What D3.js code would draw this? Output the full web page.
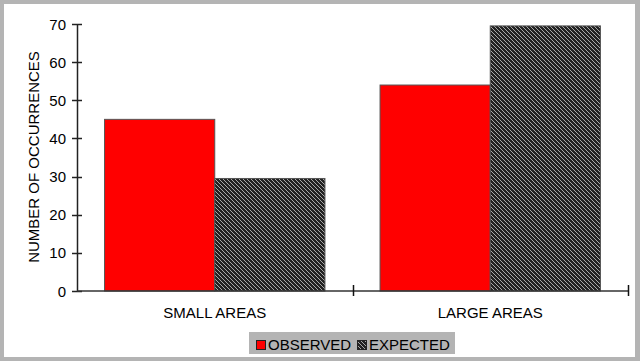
<!DOCTYPE html>
<html>
<head>
<meta charset="utf-8">
<script src="https://cdn.jsdelivr.net/npm/d3@7"></script>
<style>
  body { margin: 0; background: #fff; }
  svg { display: block; font-family: "Liberation Sans", Arial, sans-serif; }
</style>
</head>
<body>
<svg></svg>
<script>
// data
const categories = ["SMALL AREAS", "LARGE AREAS"];
const seriesNames = ["OBSERVED", "EXPECTED"];
const observed = [45, 54];
const expected = [29.5, 69.5];
const yTicks = [0, 10, 20, 30, 40, 50, 60, 70];

let width = 640;
let height = 361;
const svg = d3.select("svg").attr("width", width).attr("height", height);

// hatch pattern for the expected bars
let defs = svg.append("defs");
let pat = defs.append("pattern")
    .attr("id", "hatch")
    .attr("patternUnits", "userSpaceOnUse")
    .attr("width", 4).attr("height", 4);
pat.append("rect").attr("width", 4).attr("height", 4).attr("fill", "#222");
for (let i = 0; i < 4; i++) {
    pat.append("rect").attr("x", i).attr("y", i).attr("width", 1).attr("height", 1).attr("fill", "#a8a8a8");
}

// gray frame
svg.append("rect").attr("width", width).attr("height", height).attr("fill", "#b4b4b4");
svg.append("rect").attr("x", 4).attr("y", 4).attr("width", 631).attr("height", 353).attr("fill", "#fff");

let x0 = 77, x1 = 628, yBottom = 291, yTop = 24;

let x = d3.scaleBand().domain(categories).range([x0, x1]).paddingInner(0).paddingOuter(0);
let xs = d3.scaleBand().domain(seriesNames).range([0, x.bandwidth()]).paddingOuter(0.25).paddingInner(0);
let y = d3.scaleLinear().domain([0, 70]).range([yBottom, yTop]);

let colors = { "OBSERVED": "#ff0000", "EXPECTED": "url(#hatch)" };

let rows = categories.map(function (c, i) {
    return [{ cat: c, s: "OBSERVED", v: observed[i] }, { cat: c, s: "EXPECTED", v: expected[i] }];
}).flat();

svg.append("g").selectAll("rect")
    .data(rows)
    .enter()
    .append("rect")
    .attr("x", function (d) { return x(d.cat) + xs(d.s); })
    .attr("y", function (d) { return y(d.v); })
    .attr("width", xs.bandwidth())
    .attr("height", function (d) { return yBottom - y(d.v); })
    .attr("fill", function (d) { return colors[d.s]; })
    .attr("stroke", "#555")
    .attr("stroke-width", 1);

// y axis
let yAxis = svg.append("g");
yAxis.append("line").attr("x1", x0 + 0.5).attr("x2", x0 + 0.5).attr("y1", yTop).attr("y2", yBottom)
    .attr("stroke", "#222").attr("stroke-width", 1.5);
yAxis.selectAll("line.tick").data(yTicks).enter().append("line")
    .attr("class", "tick")
    .attr("x1", 72).attr("x2", 82)
    .attr("y1", function (d) { return Math.round(y(d)) + 0.5; })
    .attr("y2", function (d) { return Math.round(y(d)) + 0.5; })
    .attr("stroke", "#222").attr("stroke-width", 1.5);
yAxis.selectAll("text").data(yTicks).enter().append("text")
    .attr("x", 66)
    .attr("y", function (d) { return y(d) + 5.5; })
    .attr("text-anchor", "end")
    .attr("font-size", 15)
    .text(function (d) { return d; });

// x axis
let xAxis = svg.append("g");
xAxis.append("line").attr("x1", x0).attr("x2", x1).attr("y1", yBottom).attr("y2", yBottom)
    .attr("stroke", "#333").attr("stroke-width", 1.5);
let bounds = categories.map(function (c) { return x(c) + x.bandwidth(); });
xAxis.selectAll("line.tick").data(bounds).enter().append("line")
    .attr("class", "tick")
    .attr("x1", function (d) { return Math.round(d) + 0.5; })
    .attr("x2", function (d) { return Math.round(d) + 0.5; })
    .attr("y1", 285).attr("y2", 296)
    .attr("stroke", "#111").attr("stroke-width", 1.5);
xAxis.selectAll("text").data(categories).enter().append("text")
    .attr("x", function (d) { return x(d) + x.bandwidth() / 2; })
    .attr("y", 318)
    .attr("text-anchor", "middle")
    .attr("font-size", 15)
    .text(function (d) { return d; });

// axis title
svg.append("text")
    .attr("transform", "translate(39,157) rotate(-90)")
    .attr("text-anchor", "middle")
    .attr("font-size", 15)
    .text("NUMBER OF OCCURRENCES");

// legend
let lg = svg.append("g");
lg.append("rect").attr("x", 249).attr("y", 332).attr("width", 206).attr("height", 22).attr("fill", "#b4b4b4");
let legendX = [256, 357];
seriesNames.forEach(function (s, i) {
    lg.append("rect").attr("x", legendX[i] + 0.5).attr("y", 340.5).attr("width", 9).attr("height", 9)
        .attr("fill", colors[s]).attr("stroke", "#222").attr("stroke-width", 1);
    lg.append("text").attr("x", legendX[i] + 12).attr("y", 350).attr("font-size", 15).text(s);
});
</script>
</body>
</html>
